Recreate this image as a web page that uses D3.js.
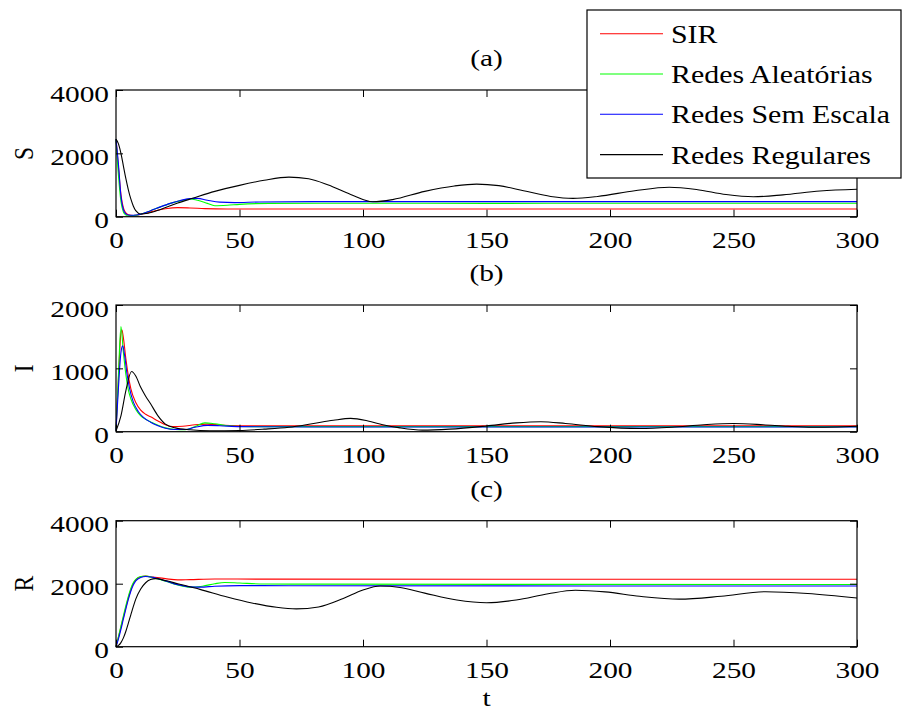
<!DOCTYPE html>
<html>
<head>
<meta charset="utf-8">
<script src="https://cdn.jsdelivr.net/npm/d3@7"></script>
<style>
  body { margin: 0; background: #fff; }
</style>
</head>
<body>
<div id="chart"></div>
<script>
// series names (legend order) and colours
var seriesNames = ["SIR", "Redes Aleatórias", "Redes Sem Escala", "Redes Regulares"];
var seriesColors = ["#ff0000", "#00ff00", "#0000ff", "#000000"];

var xTicks = [0, 50, 100, 150, 200, 250, 300];

// (a) S(t)  -- [t, value]
var S_SIR = [[0,2450],[1,1550],[2,700],[3,280],[4,120],[5,60],[7,40],[9,55],[12,110],[16,190],[20,250],[25,285],[30,275],[36,255],[45,243],[60,242],[300,242]];
var S_ALE = [[0,2450],[1,1300],[2,480],[3,150],[4,50],[5,30],[7,35],[10,80],[14,190],[18,310],[22,420],[26,500],[30,560],[33,520],[37,420],[40,345],[45,360],[50,390],[62,420],[100,425],[150,420],[200,425],[300,425]];
var S_SF  = [[0,2450],[1,1650],[2,650],[3,220],[4,90],[5,55],[7,45],[10,80],[14,190],[18,310],[22,420],[26,510],[30,570],[33,580],[37,520],[42,460],[48,445],[58,465],[80,475],[300,475]];
var S_REG = [[0,2450],[1,2300],[2,2000],[3,1600],[4,1200],[5,850],[6,560],[7,340],[8,190],[10,85],[13,110],[18,230],[25,430],[31,580],[40,800],[50,990],[60,1150],[70,1250],[78,1200],[86,1000],[95,700],[104,470],[112,540],[125,800],[137,970],[146,1030],[155,980],[165,820],[176,640],[185,580],[195,640],[210,820],[224,930],[235,860],[247,700],[258,630],[270,690],[285,810],[300,865]];

// (b) I(t)
var I_SIR = [[0,20],[1,850],[2,1560],[2.4,1610],[3,1480],[4,1150],[5,880],[6,680],[8,460],[10,340],[12,275],[14,235],[17,170],[20,110],[23,80],[27,85],[32,110],[37,120],[42,105],[50,95],[80,95],[300,95]];
var I_ALE = [[0,20],[1,900],[2,1660],[3,1250],[4,900],[5,660],[6,520],[8,350],[10,250],[12,195],[14,155],[17,100],[20,60],[24,35],[28,30],[32,80],[36,140],[40,125],[45,95],[55,80],[80,80],[300,80]];
var I_SF  = [[0,20],[1,700],[2,1250],[2.7,1355],[3.5,1200],[4.5,900],[5.5,680],[7,470],[9,320],[11,230],[14,150],[17,95],[20,55],[24,35],[28,35],[32,70],[37,100],[42,95],[50,80],[80,75],[300,75]];
var I_REG = [[0,10],[2,250],[4,650],[6.3,950],[8,880],[10,700],[12,560],[14,440],[17,250],[20,120],[24,60],[30,30],[38,15],[50,20],[60,40],[70,70],[80,130],[88,180],[95,210],[102,170],[108,110],[115,60],[124,25],[135,40],[150,90],[162,140],[172,158],[182,130],[195,80],[212,50],[225,70],[238,110],[250,130],[262,110],[272,85],[282,70],[292,75],[300,85]];

// (c) R(t)
var R_SIR = [[0,0],[1,300],[2,620],[3,930],[4,1250],[5,1550],[6,1800],[7,2000],[8,2120],[10,2220],[12,2240],[15,2210],[20,2160],[25,2120],[30,2130],[40,2150],[60,2145],[300,2140]];
var R_ALE = [[0,0],[1,320],[2,650],[3,980],[4,1300],[5,1600],[6,1850],[7,2030],[8,2140],[10,2230],[12,2240],[15,2190],[20,2080],[25,1960],[30,1890],[35,1920],[40,2000],[44,2040],[50,2020],[60,1990],[80,1985],[300,1975]];
var R_SF  = [[0,0],[1,250],[2,550],[3,880],[4,1200],[5,1500],[6,1760],[7,1960],[8,2090],[10,2200],[12,2230],[15,2200],[20,2090],[25,1970],[30,1900],[34,1890],[40,1920],[50,1940],[70,1935],[300,1925]];
var R_REG = [[0,0],[1,40],[2,130],[3,280],[4,490],[5,750],[6,1010],[7,1270],[8,1510],[10,1830],[12,2030],[14,2130],[16,2160],[20,2100],[25,2000],[34,1820],[45,1580],[55,1390],[65,1250],[73,1200],[82,1260],[92,1530],[100,1800],[107,1925],[115,1880],[125,1700],[138,1480],[150,1395],[162,1480],[175,1680],[186,1790],[198,1740],[212,1600],[228,1510],[245,1600],[263,1745],[280,1690],[300,1545]];

var panels = [
  {label: "S", title: "(a)", top: 90,    bottom: 216.7, ymax: 4000, yTicks: [0, 2000, 4000], data: [S_SIR, S_ALE, S_SF, S_REG]},
  {label: "I", title: "(b)", top: 305,   bottom: 431.7, ymax: 2000, yTicks: [0, 1000, 2000], data: [I_SIR, I_ALE, I_SF, I_REG]},
  {label: "R", title: "(c)", top: 520.7, bottom: 646.7, ymax: 4000, yTicks: [0, 2000, 4000], data: [R_SIR, R_ALE, R_SF, R_REG]}
];

var width = 902, height = 713;
var left = 116, right = 857;
var font = "Liberation Serif";
var fs = 23.5, sx = 1.25;   // tick font, horizontal stretch

var svg = d3.select("#chart").append("svg")
    .attr("width", width)
    .attr("height", height)
    .style("font-family", font);

var x = d3.scaleLinear().domain([0, 300]).range([left, right]);

function label(sel, size) {
  return sel.style("font-family", font)
    .style("font-size", size + "px")
    .attr("fill", "#000");
}

panels.forEach(function(p) {
  var y = d3.scaleLinear().domain([0, p.ymax]).range([p.bottom, p.top]);
  var g = svg.append("g");

  var line = d3.line()
      .x(function(d) { return x(d[0]); })
      .y(function(d) { return y(d[1]); })
      .curve(d3.curveMonotoneX);

  p.data.forEach(function(s, i) {
    g.append("path")
      .datum(s)
      .attr("d", line)
      .attr("fill", "none")
      .attr("stroke", seriesColors[i])
      .attr("stroke-width", 1.1);
  });

  // box + inward ticks on all sides
  var axB = g.append("g").attr("transform", "translate(0," + p.bottom + ")")
      .call(d3.axisBottom(x).tickValues(xTicks).tickFormat(d3.format("d"))
        .tickSizeInner(-7).tickSizeOuter(0).tickPadding(14.5));
  g.append("g").attr("transform", "translate(0," + p.top + ")")
      .call(d3.axisTop(x).tickValues(xTicks).tickSizeInner(-7).tickSizeOuter(0).tickFormat(""));
  var axL = g.append("g").attr("transform", "translate(" + left + ",0)")
      .call(d3.axisLeft(y).tickValues(p.yTicks).tickFormat(d3.format("d"))
        .tickSizeInner(-7).tickSizeOuter(0).tickPadding(5.6));
  g.append("g").attr("transform", "translate(" + right + ",0)")
      .call(d3.axisRight(y).tickValues(p.yTicks).tickSizeInner(-7).tickSizeOuter(0).tickFormat(""));

  g.selectAll(".domain").remove();
  g.selectAll(".tick line").attr("stroke", "#000");

  label(axB.selectAll("text"), fs)
      .attr("dy", "0.71em")
      .attr("transform", "scale(" + sx + ",1)");
  label(axL.selectAll("text"), fs)
      .attr("dy", "0.48em")
      .attr("transform", "scale(" + sx + ",1)");

  g.append("rect")
      .attr("x", left).attr("y", p.top)
      .attr("width", right - left).attr("height", p.bottom - p.top)
      .attr("fill", "none").attr("stroke", "#000").attr("stroke-width", 1.2);

  // panel title
  label(g.append("text"), fs)
      .attr("transform", "translate(" + x(150) + "," + (p.top - 24) + ") scale(" + sx + ",1)")
      .attr("text-anchor", "middle")
      .text(p.title);

  // y label
  label(g.append("text"), fs)
      .attr("transform", "translate(33," + ((p.top + p.bottom) / 2) + ") rotate(-90) scale(1,1.2)")
      .attr("text-anchor", "middle")
      .text(p.label);
});

// x label
label(svg.append("text"), fs)
    .attr("transform", "translate(" + x(150) + ",706) scale(" + sx + ",1)")
    .attr("text-anchor", "middle")
    .text("t");

// legend
var legX = 587, legY = 10;
var legend = svg.append("g");
legend.append("rect")
    .attr("x", legX).attr("y", legY)
    .attr("width", 314).attr("height", 168)
    .attr("fill", "#fff").attr("stroke", "#000").attr("stroke-width", 1.2);

var rows = legend.selectAll(".legrow")
    .data(seriesNames)
    .enter()
    .append("g")
    .attr("class", "legrow")
    .attr("transform", function(d, i) { return "translate(0," + (33.7 + i * 40.3) + ")"; });

rows.append("line")
    .attr("x1", 600).attr("x2", 663)
    .attr("y1", 0).attr("y2", 0)
    .attr("stroke", function(d, i) { return seriesColors[i]; })
    .attr("stroke-width", 1.1);

label(rows.append("text"), 26)
    .attr("transform", "translate(671,9) scale(1.15,1)")
    .text(function(d) { return d; });
</script>
</body>
</html>
